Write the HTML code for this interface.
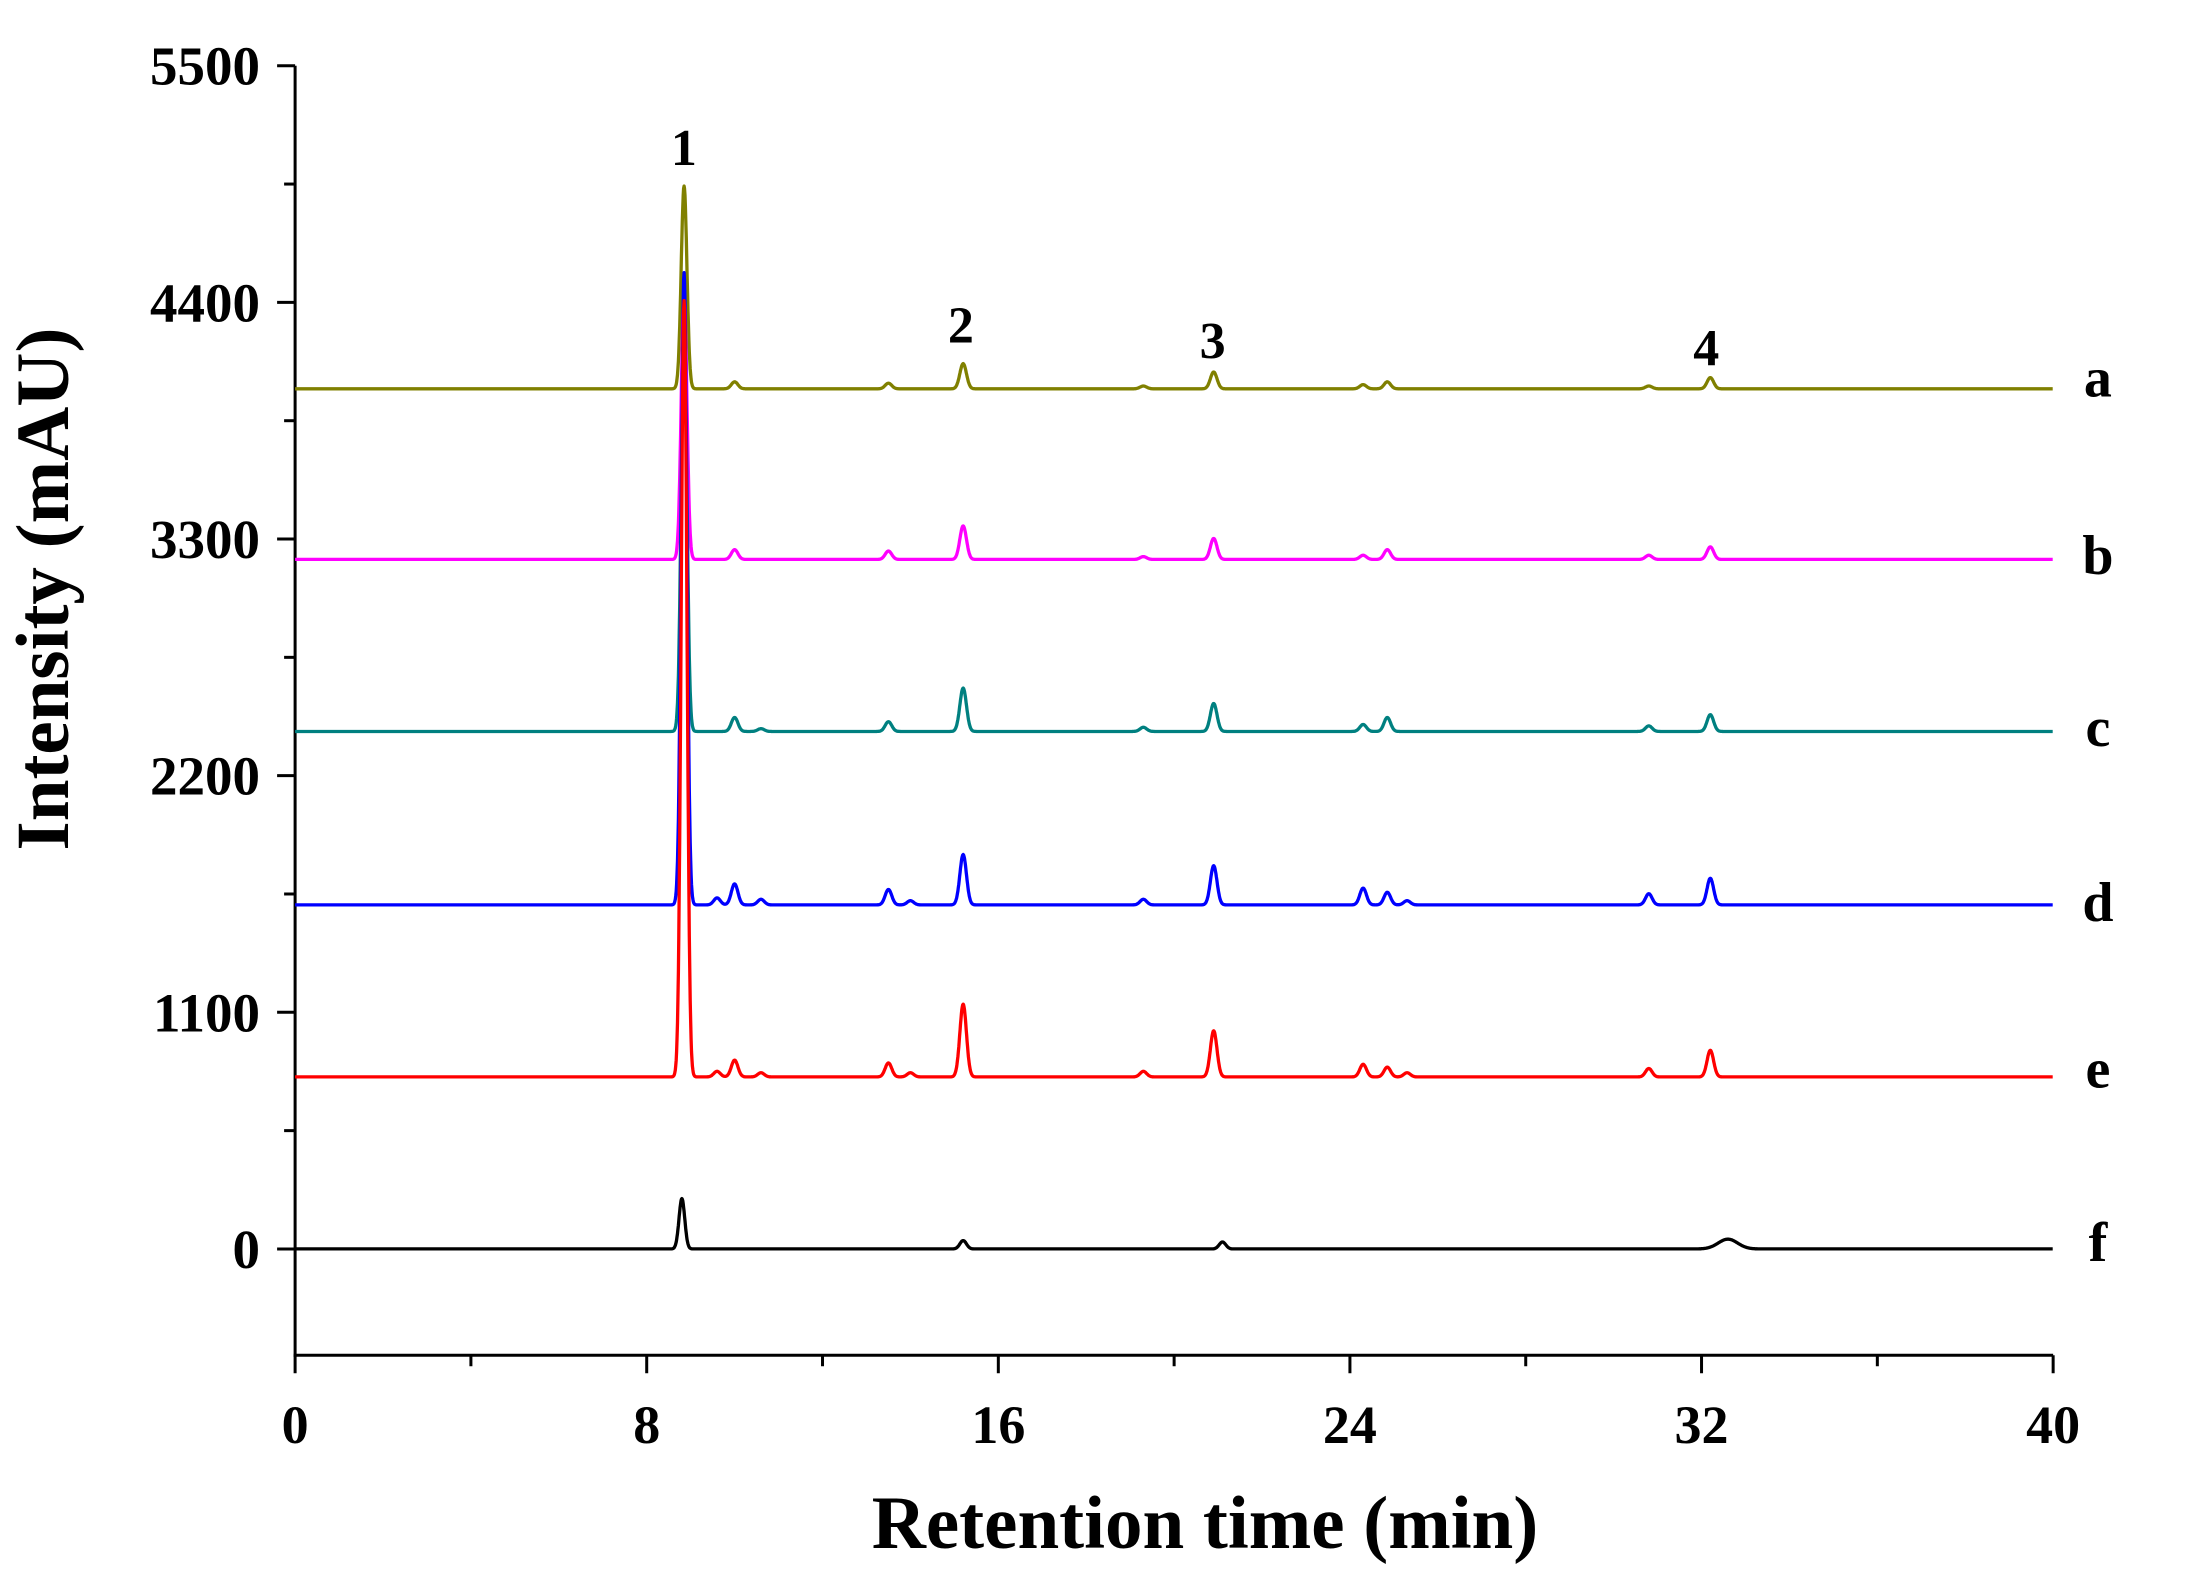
<!DOCTYPE html>
<html><head><meta charset="utf-8"><style>
html,body{margin:0;padding:0;background:#fff;}
svg{display:block;font-family:"Liberation Serif",serif;font-weight:bold;}
</style></head><body>
<svg id="s" width="2191" height="1588" viewBox="0 0 2191 1588" xmlns="http://www.w3.org/2000/svg">
<g id="ax" stroke="#000" stroke-width="3" fill="none"></g>
<g id="tr" fill="none" stroke-width="3.3" stroke-linejoin="round"></g>
<g id="tx" fill="#000"></g>
</svg>
<script>
var dpx=1.3986;
var X0=211*dpx,X1=1468*dpx,Y0=893*dpx,Y55=47*dpx;
function xs(t){return X0+(X1-X0)*t/40;}
function ys(v){return Y0-(Y0-Y55)*v/5500;}
var ax=document.getElementById('ax'),tr=document.getElementById('tr'),tx=document.getElementById('tx');
var NS='http://www.w3.org/2000/svg';
function el(p,n,a,txt){var e=document.createElementNS(NS,n);for(var k in a)e.setAttribute(k,a[k]);if(txt!==undefined)e.textContent=txt;p.appendChild(e);return e;}
var yb=969*dpx;
el(ax,'line',{x1:X0,y1:Y55,x2:X0,y2:yb+1.5});
el(ax,'line',{x1:X0-1.5,y1:yb,x2:X1,y2:yb});
for(var v=-550;v<=5500;v+=550){var y=ys(v);if(y>yb)continue;var maj=(v%1100===0);
 el(ax,'line',{x1:X0-(maj?18:11),y1:y,x2:X0,y2:y});
 if(maj&&v>=0)el(tx,'text',{x:260,y:y+19,'text-anchor':'end','font-size':55},String(v));}
for(var t=0;t<=40;t+=4){var x=xs(t),maj=(t%8===0);
 el(ax,'line',{x1:x,y1:yb,x2:x,y2:yb+(maj?18:11)});
 if(maj)el(tx,'text',{x:x,y:1443,'text-anchor':'middle','font-size':54},String(t));}
el(tx,'text',{x:1205,y:1548,'text-anchor':'middle','font-size':75},'Retention time (min)');
el(tx,'text',{x:0,y:0,'text-anchor':'middle','font-size':75,transform:'translate(68,589) rotate(-90)'},'Intensity (mAU)');
var pk=[['1',489,105],['2',687,232],['3',867,243],['4',1220,248]];
pk.forEach(function(p){el(tx,'text',{x:p[1]*dpx,y:p[2]*dpx+18,'text-anchor':'middle','font-size':52},p[0]);});
var T=[
 ['a',278,'#808000',133,[[10.0,5],[13.5,4],[15.2,18],[19.3,2],[20.9,12],[24.3,3],[24.85,5],[30.8,2],[32.2,8]]],
 ['b',400,'#ff00ff',210,[[10.0,7],[13.5,6],[15.2,24],[19.3,2],[20.9,15],[24.3,3],[24.85,7],[30.8,3],[32.2,9]]],
 ['c',523,'#008080',230,[[10.0,10],[10.6,2],[13.5,7],[15.2,31],[19.3,3],[20.9,20],[24.3,5],[24.85,10],[30.8,4],[32.2,12]]],
 ['d',647,'#0000ff',195,[[9.6,5],[10.0,15],[10.6,4],[13.5,11],[14.0,3],[15.2,36],[19.3,4],[20.9,28],[24.3,12],[24.85,9],[25.3,3],[30.8,8],[32.2,19]]],
 ['e',770,'#ff0000',215,[[9.6,4],[10.0,12],[10.6,3],[13.5,10],[14.0,3],[15.2,52],[19.3,4],[20.9,33],[24.3,9],[24.85,7],[25.3,3],[30.8,6],[32.2,19]]],
 ['f',893,'#000000',857,[[15.2,6],[21.1,5]]]
];
var lab={a:272,b:399,c:522,d:647,e:766,f:890};
T.forEach(function(tt){
 var base=tt[1]*dpx, peaks=[[8.85,tt[1]-tt[3],0.065]].concat(tt[4].map(function(q){return [q[0],q[1],0.075];}));
 if(tt[0]==='f'){peaks[0][0]=8.8;peaks.push([32.6,7,0.22]);}
 var d='';
 for(var t=0;t<=40;t+=0.01){var h=0;peaks.forEach(function(q){var z=(t-q[0])/q[2];if(Math.abs(z)<6)h+=q[1]*Math.exp(-0.5*z*z);});
  var x=xs(t),y=base-h*dpx;d+=(d?'L':'M')+x.toFixed(1)+' '+y.toFixed(1);}
 el(tr,'path',{d:d,stroke:tt[2]});
 el(tx,'text',{x:1500*dpx,y:lab[tt[0]]*dpx+16,'text-anchor':'middle','font-size':56},tt[0]);
});
</script>
</body></html>
